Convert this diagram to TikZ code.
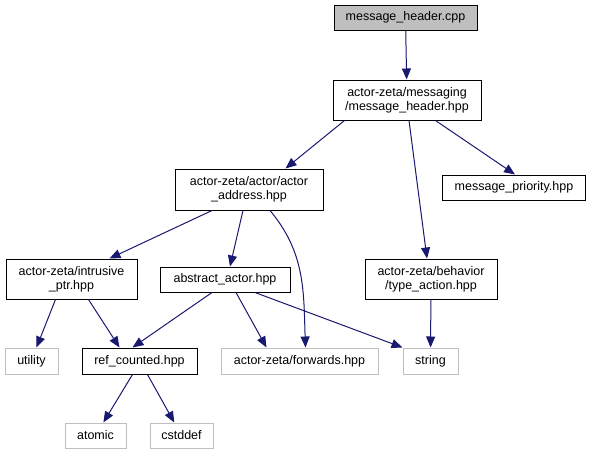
\documentclass[tikz,border=0pt]{standalone}
\usepackage{fontspec}
\setmainfont{Liberation Sans}
\usetikzlibrary{arrows.meta}
\definecolor{edgeblue}{HTML}{191970}
\definecolor{srcgray}{HTML}{BFBFBF}
\definecolor{sysgray}{HTML}{BFBFBF}
\tikzset{
  file/.style={draw=black, fill=white, line width=1pt, inner sep=0pt, align=center,
    font=\fontsize{12.5}{14}\selectfont},
  srcfile/.style={file, fill=srcgray},
  sysfile/.style={file, draw=sysgray},
  dep/.style={draw=edgeblue, line width=1pt, -{Triangle[length=11pt,width=9pt]}},
}

\begin{document}
\begin{tikzpicture}[x=1pt,y=-1pt]
      \useasboundingbox (0,0) rectangle (595,455);
      % top file
      \node [srcfile, minimum width=143, minimum height=25] (cpp) at (405.5,17.5) {message\_header.cpp};
      \node [file, minimum width=148, minimum height=40] (msghdr) at (407,100) {actor-zeta/messaging\\/message\_header.hpp};
      % second level
      \node [file, minimum width=148, minimum height=41] (address) at (249,189.5) {actor-zeta/actor/actor\\\_address.hpp};
      \node [file, minimum width=143, minimum height=25] (priority) at (514,187.5) {message\_priority.hpp};
      % third level
      \node [file, minimum width=131, minimum height=40] (intrusive) at (71.5,279) {actor-zeta/intrusive\\\_ptr.hpp};
      \node [file, minimum width=130, minimum height=25] (abstract) at (225,279.5) {abstract\_actor.hpp};
      \node [file, minimum width=132, minimum height=40] (action) at (431,279) {actor-zeta/behavior\\/type\_action.hpp};
      % fourth level
      \node [sysfile, minimum width=53, minimum height=26] (utility) at (31.5,361) {utility};
      \node [file, minimum width=115, minimum height=26] (refcount) at (139.5,361) {ref\_counted.hpp};
      \node [sysfile, minimum width=157, minimum height=26] (forwards) at (299.5,361) {actor-zeta/forwards.hpp};
      \node [sysfile, minimum width=55, minimum height=26] (string) at (430.5,361) {string};
      % bottom
      \node [sysfile, minimum width=61, minimum height=25] (atomic) at (95.5,435.5) {atomic};
      \node [sysfile, minimum width=63, minimum height=25] (cstddef) at (181.5,435.5) {cstddef};
      % dependencies
      \draw [dep] (cpp) -- (msghdr);
      \draw [dep] ([xshift=12pt]msghdr.south west) -- ([xshift=-38pt]address.north east);
      \draw [dep] ([xshift=-46pt]msghdr.south east) -- ([xshift=1pt]priority.north);
      \draw [dep] ([xshift=2pt]msghdr.south) -- ([xshift=-4pt]action.north);
      \draw [dep] ([xshift=-37pt]address.south) -- ([xshift=38pt]intrusive.north);
      \draw [dep] ([xshift=-6pt]address.south) -- ([xshift=5pt]abstract.north);
      \draw [dep] ([xshift=21pt]address.south) to[out=-50,in=92] ([xshift=6pt]forwards.north);
      \draw [dep] ([xshift=-16pt]intrusive.south) -- ([xshift=-22pt]utility.north east);
      \draw [dep] ([xshift=17pt]intrusive.south) -- ([xshift=-20pt]refcount.north);
      \draw [dep] ([xshift=-13pt]abstract.south) -- ([xshift=-7pt]refcount.north);
      \draw [dep] ([xshift=11pt]abstract.south) -- ([xshift=-33pt]forwards.north);
      \draw [dep] ([xshift=30pt]abstract.south) -- (string.north west);
      \draw [dep] (action) -- (string);
      \draw [dep] ([xshift=-7pt]refcount.south) -- (atomic);
      \draw [dep] ([xshift=8pt]refcount.south) -- (cstddef);
\end{tikzpicture}
\end{document}
